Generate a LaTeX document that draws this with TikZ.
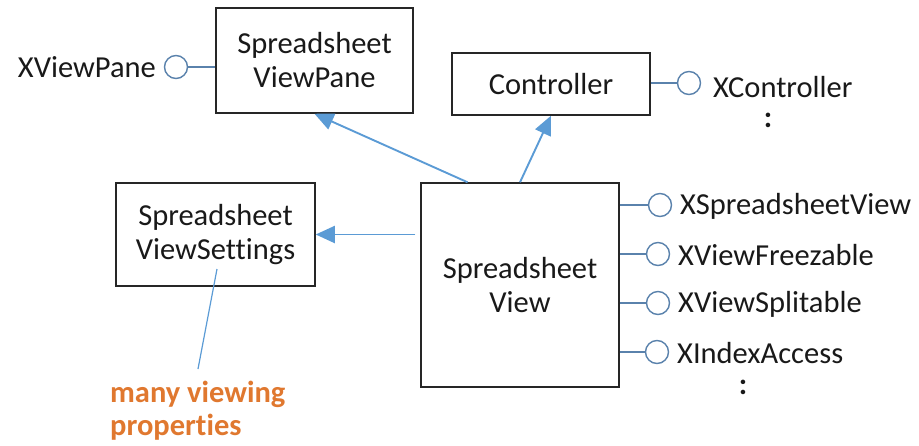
\documentclass[tikz,border=0pt]{standalone}
\usepackage{fontspec}
\setmainfont{Carlito}[Ligatures={NoCommon,NoContextual}]
\usetikzlibrary{arrows.meta,calc}
\definecolor{arrblue}{HTML}{5B9BD5}
\definecolor{ifblue}{HTML}{5A82AC}
\definecolor{boxline}{HTML}{262626}
\definecolor{noteorange}{HTML}{E0782F}
\begin{document}
\begin{tikzpicture}[x=1pt,y=-1pt,
  every node/.style={font=\fontsize{30.5}{34}\selectfont, text=black!90},
  umlbox/.style={draw=boxline, line width=1.5pt, align=center, inner sep=0pt},
  iface/.style={draw=ifblue, line width=1.4pt},
  ball/.style={circle, draw=ifblue, line width=1.4pt, minimum size=23pt, inner sep=0pt, fill=white},
  lbl/.style={anchor=west, inner sep=0pt},
  more/.style={inner sep=0pt},
  gen/.style={draw=arrblue, line width=1.9pt, -{Triangle[length=19pt,width=17pt]}},
  note/.style={draw=arrblue, line width=1.2pt}
]
\useasboundingbox (0,0) rectangle (919,445);
% classes
\node[umlbox, minimum width=197pt, minimum height=105pt] (pane) at (314.5,60.5) {Spreadsheet\\ViewPane};
\node[umlbox, minimum width=198pt, minimum height=62pt] (ctrl) at (551,84) {Controller};
\node[umlbox, minimum width=199pt, minimum height=103pt] (settings) at (215.5,234.5) {Spreadsheet\\ViewSettings};
\node[umlbox, minimum width=198pt, minimum height=204pt] (view) at (520,285) {Spreadsheet\\View};
% interfaces
\node[ball] (bpane) at (176,67) {};
\node[lbl, anchor=east] (lpane) at (156,67) {XViewPane};
\draw[iface] (bpane) -- (pane.west |- bpane);
\node[ball] (bctrl) at (689,83) {};
\draw[iface] (ctrl.east |- bctrl) -- (bctrl);
\node[lbl] (lctrl) at (713,87) {XController};
\node[more] (dots1) at (768,120) {\textbf{:}};
\node[ball] (b1) at (660,205) {};
\node[ball] (b2) at (658,254) {};
\node[ball] (b3) at (658,303) {};
\node[ball] (b4) at (657,352) {};
\draw[iface] (view.east |- b1) -- (b1);
\draw[iface] (view.east |- b2) -- (b2);
\draw[iface] (view.east |- b3) -- (b3);
\draw[iface] (view.east |- b4) -- (b4);
\node[lbl] (l1) at (680,206) {XSpreadsheetView};
\node[lbl] (l2) at (678,255) {XViewFreezable};
\node[lbl] (l3) at (678,304) {XViewSplitable};
\node[lbl] (l4) at (677,353) {XIndexAccess};
\node[more] (dots2) at (743,387) {\textbf{:}};
% generalizations
\draw[gen] ($(view.north west)!0.237!(view.north east)$) -- (pane.south);
\draw[gen] (view.north) -- (ctrl.south);
\draw[gen] ($(view.west |- settings.east)+(-5,0)$) -- (settings.east);
% note
\coordinate (nstart) at ($(settings.center)+(1.5,34.5)$);
\coordinate (nend) at (198,369);
\draw[note] (nstart) -- (nend);
\node[anchor=north west, inner sep=0pt, align=left, text=noteorange, font=\bfseries\fontsize{30.5}{33}\selectfont] (notetxt) at (110,381) {many viewing\\propert\kern0pt ies};
\end{tikzpicture}
\end{document}
